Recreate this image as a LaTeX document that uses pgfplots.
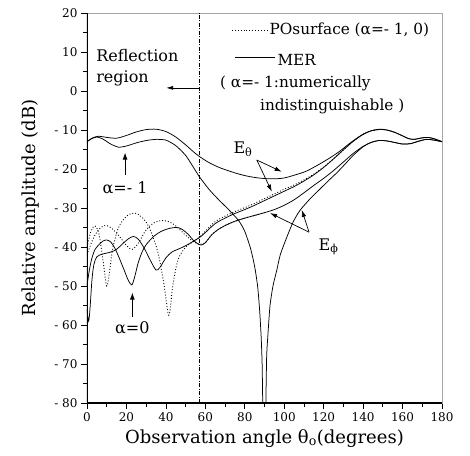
\documentclass[border=0pt]{standalone}
\usepackage{fontspec}
\setmainfont{DejaVu Serif}
\usepackage{pgfplots}
\usepackage{pgfplotstable}
\pgfplotsset{compat=1.18}
\usetikzlibrary{arrows.meta}

% E_theta, alpha=-1 (MER = PO)
\pgfplotstableread{
x y
0 -13
3 -12
6 -11.6
10 -11.9
15 -12.1
20 -11.4
25 -10.5
30 -9.9
35 -9.8
40 -10.4
45 -11.8
50 -13.8
54 -15.6
57 -16.8
62 -18.4
67 -19.6
72 -20.5
77 -21.3
82 -21.9
87 -22.3
92 -22.5
96 -22.5
100 -22.3
105 -21.6
111 -20.6
117 -19
123 -17.2
128 -15.5
133 -13.5
138 -11.7
143 -10.4
148 -9.8
152 -10
156 -10.6
160 -11.5
163 -12.2
166 -12.4
169 -12.1
172 -11.9
175 -12.1
178 -12.6
180 -13
}\ThAm

% E_phi, alpha=-1, left of the null
\pgfplotstableread{
x y
0 -13
2 -12.3
5 -11.8
8 -12.3
12 -13.6
16 -14.4
20 -14.1
25 -13.3
30 -12.7
35 -12.4
40 -12.6
45 -14
50 -16.5
54 -19.6
57 -22
62 -25.3
67 -28
72 -30.5
77 -33.3
80 -36
83 -40.5
85 -45
86.5 -50
87.5 -56
88.3 -63
88.8 -70
89.1 -80
}\PhAmL

% E_phi, alpha=-1, right of the null
\pgfplotstableread{
x y
90.7 -80
91.1 -68
91.8 -62
92.8 -55
94.3 -50
96.2 -46
98 -42
101.3 -37.5
104.6 -33.5
108 -30.6
113 -27.7
118 -25.2
122 -23.2
126.6 -21
130 -19.2
135 -16.5
140 -14.3
144 -13.2
148 -12.7
152 -12.8
156 -13.2
160 -13.6
164 -13.5
168 -12.9
172 -12.4
176 -12.6
180 -13
}\PhAmR

% E_theta, alpha=0, MER
\pgfplotstableread{
x y
0 -56
0.8 -59
1.5 -56
2.5 -48.5
3.5 -44.5
5 -42.5
8 -41.8
12 -41.3
15 -40.6
18 -39.2
21 -37.9
23.5 -37.3
26 -38
29 -40.3
32 -43.3
35 -45.9
37 -45.2
40 -42.8
43 -41.3
47 -40.4
51 -39.4
55 -38.2
57 -37.6
60 -36.3
65 -34
70 -32.6
75 -31.4
80 -30.4
85 -29.3
90 -28.1
95 -26.9
100 -25.7
105 -24.5
110 -23.1
115 -21.5
120 -19.6
125 -17.4
130 -15.1
135 -12.9
140 -11.1
144 -10.2
148 -9.9
152 -10
156 -10.6
160 -11.5
163 -12.2
166 -12.4
169 -12.1
172 -11.9
175 -12.1
178 -12.6
180 -13
}\ThAz

% E_phi, alpha=0, MER
\pgfplotstableread{
x y
0 -50
1 -46.5
2.4 -43
4 -40.7
5.7 -39.6
8 -38.5
10 -38.2
12 -38.7
14 -40.2
16 -42.4
18.5 -45.5
21 -48.6
22.7 -49.7
24 -48
26 -44
28 -41.2
30 -39.4
34 -37.2
38 -35.9
42 -35.2
45.5 -35
48 -35.4
51 -36.6
54 -38.3
56.5 -39.3
58 -39.5
60 -38.9
63 -37
66 -35.7
70 -34.5
75 -33.4
80 -32.6
85 -31.9
90 -31.2
95 -30.4
100 -29.3
105 -27.9
110 -26.1
115 -24.2
120 -22.4
125 -20.4
130 -18.2
135 -16
140 -14.2
144 -13.2
148 -12.7
152 -12.8
156 -13.2
160 -13.6
164 -13.5
168 -12.9
172 -12.4
176 -12.6
180 -13
}\PhAz

% PO surface, E_theta, alpha=0
\pgfplotstableread{
x y
0 -40
2 -36
4 -34.6
6 -36.5
8 -43
10 -50
11.5 -46
13 -40.5
16 -35
20 -32.1
24 -31.3
28 -32.4
32 -35.5
36 -41.5
39 -49.5
41.5 -57.5
43.5 -50
46 -43.5
50 -40
54 -38.6
57 -37.5
60 -35.9
65 -33.5
70 -32.1
75 -30.9
80 -29.9
85 -28.8
90 -27.6
95 -26.4
100 -25.2
105 -24.1
110 -22.8
115 -21.3
120 -19.5
125 -17.4
130 -15.1
135 -12.9
140 -11.1
144 -10.2
148 -9.9
}\POTh

% PO surface, E_phi, alpha=0
\pgfplotstableread{
x y
0 -42
3 -38
6 -35.5
9 -34.5
12 -35
16 -37
20 -39.6
23 -40.6
26 -39
30 -35.6
34 -33.8
38 -33.2
42 -33.6
46 -35
50 -37
54 -38.6
57 -39.3
60 -38.9
63 -37
66 -35.7
70 -34.5
75 -33.4
80 -32.6
85 -31.9
90 -31.2
}\POPh

\begin{document}
\begin{tikzpicture}
\begin{axis}[
  scale only axis,
  width=355pt, height=390pt,
  xmin=0, xmax=180, ymin=-80, ymax=20,
  xtick={0,20,...,180},
  xticklabels={0,20,40,60,80,100,120,140,160,180},
  ytick={-80,-70,...,20},
  yticklabels={- 80,- 70,- 60,- 50,- 40,- 30,- 20,- 10,0,10,20},
  minor x tick num=1, minor y tick num=1,
  tick align=outside,
  xtick pos=bottom, ytick pos=left,
  major tick length=6pt, minor tick length=3.5pt,
  tick style={black, line width=0.7pt},
  ticklabel style={font=\fontsize{12}{14}\selectfont},
  axis line style={draw=gray!70, line width=0.8pt},
  xlabel={Observation angle θ\textsubscript{o}(degrees)},
  ylabel={Relative amplitude (dB)},
  label style={font=\fontsize{18}{20}\selectfont},
  xlabel style={at={(axis description cs:0.5,-0.09)}, anchor=center},
  ylabel style={at={(axis description cs:-0.16,0.5)}, anchor=center},
  clip=true,
  every axis plot/.append style={line width=0.75pt, black},
]
% vertical shadow boundary line
\addplot[line width=0.6pt, dash pattern=on 4pt off 1.5pt on 1pt off 1.5pt] coordinates {(56.8,-80) (56.8,20)};

\addplot[smooth, tension=0.5] table {\ThAm};
\addplot[smooth, tension=0.4] table {\PhAmL};
\addplot[smooth, tension=0.4] table {\PhAmR};
\addplot[smooth, tension=0.5] table {\ThAz};
\addplot[smooth, tension=0.5] table {\PhAz};
\addplot[smooth, tension=0.5, line width=0.9pt, dotted] table {\POTh};
\addplot[smooth, tension=0.5, line width=0.9pt, dotted] table {\POPh};

% legend
\draw[line width=0.9pt, dotted] (axis cs:73.5,15.6) -- (axis cs:91.8,15.6);
\node[anchor=west, inner sep=0pt, font=\fontsize{15.3}{17}\selectfont] at (axis cs:92.5,15.6) {POsurface (α=- 1, 0)};
\draw[line width=0.8pt] (axis cs:75,8.7) -- (axis cs:95.3,8.7);
\node[anchor=west, inner sep=0pt, font=\fontsize{15.3}{17}\selectfont] at (axis cs:96.5,8.0) {MER};
\node[anchor=west, inner sep=0pt, font=\fontsize{15.3}{17}\selectfont] at (axis cs:67.4,2.0) {( α=- 1:numerically};
\node[anchor=west, inner sep=0pt, font=\fontsize{15.3}{17}\selectfont] at (axis cs:87.7,-3.9) {indistinguishable )};

% reflection region
\node[anchor=west, inner sep=0pt, font=\fontsize{16}{18}\selectfont] at (axis cs:4.6,9.2) {Reflection};
\node[anchor=west, inner sep=0pt, font=\fontsize{16}{18}\selectfont] at (axis cs:4.6,3.3) {region};
\draw[-{Latex[length=7pt,width=4pt]}, line width=0.7pt] (axis cs:56.8,0.8) -- (axis cs:40.1,0.8);

% alpha labels
\node[font=\fontsize{16}{18}\selectfont] at (axis cs:19.3,-24.9) {α=- 1};
\draw[-{Latex[length=7pt,width=5pt]}, line width=0.8pt] (axis cs:19.3,-21.5) -- (axis cs:19.3,-15.8);
\node[font=\fontsize{16}{18}\selectfont] at (axis cs:23,-60.8) {α=0};
\draw[-{Latex[length=7pt,width=5pt]}, line width=0.8pt] (axis cs:23,-57.9) -- (axis cs:23,-51.7);

% E_theta
\node[font=\fontsize{16}{18}\selectfont] at (axis cs:79.1,-14.9) {E\textsubscript{θ}};
\draw[-{Latex[length=7pt,width=4.5pt]}, line width=0.7pt] (axis cs:86.1,-17.7) -- (axis cs:98.7,-20.7);
\draw[-{Latex[length=7pt,width=4.5pt]}, line width=0.7pt] (axis cs:86.1,-17.7) -- (axis cs:93.7,-25.8);

% E_phi
\node[font=\fontsize{16}{18}\selectfont] at (axis cs:122.5,-40) {E\textsubscript{ϕ}};
\draw[-{Latex[length=7pt,width=4.5pt]}, line width=0.7pt] (axis cs:112.6,-36.2) -- (axis cs:92.8,-31.3);
\draw[-{Latex[length=7pt,width=4.5pt]}, line width=0.7pt] (axis cs:112.6,-36.2) -- (axis cs:108.9,-30.5);

% darker left and bottom axis lines
\draw[line width=1.2pt, black] (rel axis cs:0,1) -- (rel axis cs:0,0) -- (rel axis cs:1,0);
\end{axis}
\pgfresetboundingbox
\path ([shift={(-87pt,-52pt)}]current axis.south west) rectangle ([shift={(28pt,13pt)}]current axis.north east);
\end{tikzpicture}
\end{document}
